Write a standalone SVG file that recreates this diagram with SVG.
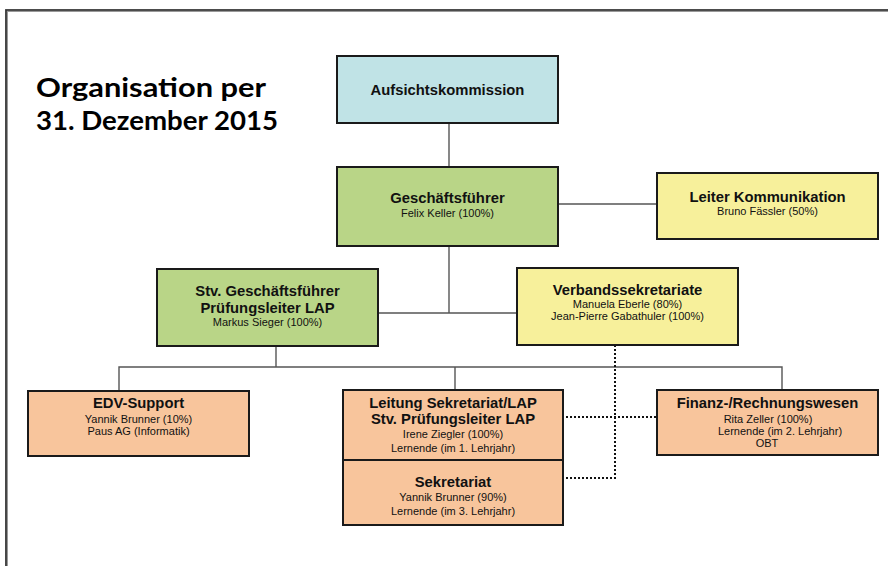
<svg xmlns="http://www.w3.org/2000/svg" width="888" height="566" viewBox="0 0 888 566">
<style>
.box{stroke:#1a1a1a;stroke-width:2}
.cyan{fill:#C0E3E6}.green{fill:#B9D587}.yellow{fill:#F7F09B}.orange{fill:#F8C59C}
.h{font-family:"Liberation Sans",Arial,sans-serif;font-weight:bold;font-size:14.8px;fill:#111;text-anchor:middle}
.s{font-family:"Liberation Sans",Arial,sans-serif;font-size:11px;fill:#111;text-anchor:middle}
.ln{stroke:#555;stroke-width:1.4;fill:none}
.dot{stroke:#111;stroke-width:2;stroke-dasharray:2 2;fill:none}
.title{font-family:Lato,"Open Sans",sans-serif;font-weight:bold;font-size:27px;fill:#000}
</style>
<rect width="888" height="566" fill="#fff"/>
<g id="frame">
<path d="M6.5,566 V10.5 H888" stroke="#999" stroke-width="3" fill="none"/>
<path d="M6,566 V10 H888" stroke="#333" stroke-width="1.6" fill="none"/>
</g>
<g id="title">
<text class="title" x="36" y="97" textLength="230" lengthAdjust="spacingAndGlyphs">Organisation per</text>
<text class="title" x="36" y="130" textLength="242" lengthAdjust="spacingAndGlyphs">31. Dezember 2015</text>
</g>
<g id="connectors">
<path class="ln" d="M449,123 V167"/>
<path class="ln" d="M558,204 H657"/>
<path class="ln" d="M449,246 V313"/>
<path class="ln" d="M378,313 H517"/>
<path class="ln" d="M276,346 V367"/>
<path class="ln" d="M119,391 V367 H782 V390"/>
<path class="ln" d="M455,367 V390"/>
<path class="dot" d="M615,345 V478 H566"/>
<path class="dot" d="M566,417 H657"/>
</g>
<g id="aufsichtskommission">
<rect class="box cyan" x="337" y="56" width="221" height="67"/>
<text class="h" x="447.5" y="95">Aufsichtskommission</text>
</g>
<g id="geschaeftsfuehrer">
<rect class="box green" x="337" y="167" width="221" height="79"/>
<text class="h" x="447.5" y="203">Geschäftsführer</text>
<text class="s" x="447.5" y="217">Felix Keller (100%)</text>
</g>
<g id="leiter-kommunikation">
<rect class="box yellow" x="657" y="173" width="221" height="66"/>
<text class="h" x="767.5" y="202">Leiter Kommunikation</text>
<text class="s" x="767.5" y="215">Bruno Fässler (50%)</text>
</g>
<g id="stv-geschaeftsfuehrer">
<rect class="box green" x="157" y="269" width="221" height="77"/>
<text class="h" x="267.5" y="296">Stv. Geschäftsführer</text>
<text class="h" x="267.5" y="313">Prüfungsleiter LAP</text>
<text class="s" x="267.5" y="326">Markus Sieger (100%)</text>
</g>
<g id="verbandssekretariate">
<rect class="box yellow" x="517" y="268" width="221" height="77"/>
<text class="h" x="627.5" y="295">Verbandssekretariate</text>
<text class="s" x="627.5" y="308">Manuela Eberle (80%)</text>
<text class="s" x="627.5" y="320">Jean-Pierre Gabathuler (100%)</text>
</g>
<g id="edv-support">
<rect class="box orange" x="28" y="391" width="221" height="65"/>
<text class="h" x="138.5" y="408">EDV-Support</text>
<text class="s" x="138.5" y="423">Yannik Brunner (10%)</text>
<text class="s" x="138.5" y="435">Paus AG (Informatik)</text>
</g>
<g id="leitung-sekretariat">
<rect class="box orange" x="343" y="390" width="220" height="70"/>
<text class="h" x="453" y="408">Leitung Sekretariat/LAP</text>
<text class="h" x="453" y="424">Stv. Prüfungsleiter LAP</text>
<text class="s" x="453" y="438">Irene Ziegler (100%)</text>
<text class="s" x="453" y="452">Lernende (im 1. Lehrjahr)</text>
</g>
<g id="sekretariat">
<rect class="box orange" x="343" y="460" width="220" height="65"/>
<text class="h" x="453" y="487">Sekretariat</text>
<text class="s" x="453" y="501">Yannik Brunner (90%)</text>
<text class="s" x="453" y="515">Lernende (im 3. Lehrjahr)</text>
</g>
<g id="finanz-rechnungswesen">
<rect class="box orange" x="657" y="390" width="221" height="65"/>
<text class="h" x="767.5" y="408">Finanz-/Rechnungswesen</text>
<text class="s" x="768" y="423">Rita Zeller (100%)</text>
<text class="s" x="780" y="435">Lernende (im 2. Lehrjahr)</text>
<text class="s" x="767" y="447">OBT</text>
</g>
</svg>
